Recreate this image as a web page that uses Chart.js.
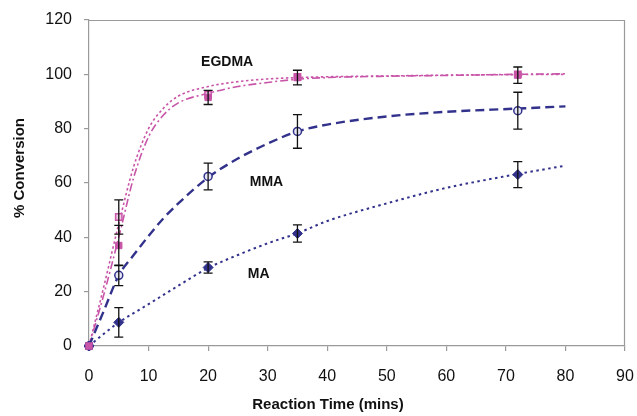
<!DOCTYPE html>
<html>
<head>
<meta charset="utf-8">
<script src="https://cdn.jsdelivr.net/npm/chart.js@4.4.1/dist/chart.umd.min.js"></script>
<style>
html,body{margin:0;padding:0;background:#fff;}
#wrap{width:637px;height:416px;position:relative;}
</style>
</head>
<body>
<div id="wrap"><canvas id="c" width="637" height="416"></canvas></div>
<script>
// ---- data ----
const markerTime = [0, 5, 20, 35, 72];
const maMean    = [0, 8.7, 28.9, 41.4, 63.1];
const maErr     = [0, 5.4, 2.1, 3.2, 4.8];
const mmaMean   = [0, 26, 62.4, 79, 86.6];
const mmaErr    = [0, 3.8, 4.9, 6.2, 6.8];
const egdmaMean = [0, 37, 91.5, 98.8, 99.7];
const egdmaErr  = [0, 7.4, 2.6, 2.7, 3.0];
const egdma2Mean = [0, 47.5, 92.5, 99, 100];
const egdma2Err  = [0, 6.3, 0, 0, 0];

const curveTime = [0, 2.5, 5, 7.5, 10, 12.5, 15, 20, 25, 30, 35, 40, 50, 60, 72, 80];
const maFit     = [0, 4.5, 8.7, 12.1, 15.4, 18.8, 22.2, 28.7, 33.5, 37.8, 41.5, 46, 52.5, 58.2, 63.3, 66.4];
const mmaFit    = [0, 13, 26, 33.5, 40.5, 47, 52.5, 62, 69, 74.5, 79, 81.5, 84.5, 86.2, 87.4, 88.2];
const egdmaFitA = [0, 19, 40, 62, 77, 85, 89.5, 93, 95.5, 97, 98.2, 98.8, 99.3, 99.6, 100, 100.2];
const egdmaFitB = [0, 22, 45, 66, 80, 87.5, 92, 95.5, 97.3, 98.3, 98.8, 99.1, 99.4, 99.7, 99.9, 100];

const xTicks = [0, 10, 20, 30, 40, 50, 60, 70, 80, 90];
const yTicks = [0, 20, 40, 60, 80, 100, 120];

const labels = [
  {text: 'EGDMA', x: 23.2, y: 104.5},
  {text: 'MMA',   x: 29.8, y: 60.2},
  {text: 'MA',    x: 28.5, y: 26.6}
];

const NAVY = '#32328c';
const PINK = '#c855a8';

const pts = (xs, ys) => xs.map((x, i) => ({x: x, y: ys[i]}));

const errorBars = [
  {mean: maMean, err: maErr},
  {mean: mmaMean, err: mmaErr},
  {mean: egdmaMean, err: egdmaErr},
  {mean: egdma2Mean, err: egdma2Err}
];

const extras = {
  id: 'extras',
  beforeDatasetsDraw(chart) {
    const {ctx, chartArea: a} = chart;
    ctx.save();
    ctx.strokeStyle = '#9a9a9a';
    ctx.lineWidth = 1.2;
    ctx.beginPath();
    ctx.moveTo(a.left, a.top + 0.5);
    ctx.lineTo(a.right - 0.5, a.top + 0.5);
    ctx.lineTo(a.right - 0.5, a.bottom);
    ctx.stroke();
    ctx.restore();
  },
  afterDatasetsDraw(chart) {
    const {ctx} = chart;
    const xs = chart.scales.x, ys = chart.scales.y;
    ctx.save();
    ctx.strokeStyle = '#111';
    ctx.lineWidth = 1.3;
    errorBars.forEach(s => {
      s.mean.forEach((m, i) => {
        const e = s.err[i];
        if (!e) return;
        const px = xs.getPixelForValue(markerTime[i]);
        const top = ys.getPixelForValue(m + e);
        const bot = ys.getPixelForValue(m - e);
        ctx.beginPath();
        ctx.moveTo(px, top); ctx.lineTo(px, bot);
        ctx.moveTo(px - 4.5, top); ctx.lineTo(px + 4.5, top);
        ctx.moveTo(px - 4.5, bot); ctx.lineTo(px + 4.5, bot);
        ctx.stroke();
      });
    });
    ctx.fillStyle = '#111';
    ctx.font = 'bold 14px "Liberation Sans", Arial, sans-serif';
    ctx.textAlign = 'center';
    ctx.textBaseline = 'middle';
    labels.forEach(l => {
      ctx.fillText(l.text, xs.getPixelForValue(l.x), ys.getPixelForValue(l.y));
    });
    ctx.restore();
  },
  afterDraw(chart) {
    const {ctx} = chart;
    ctx.save();
    ctx.fillStyle = '#111';
    ctx.font = 'bold 15px "Liberation Sans", Arial, sans-serif';
    ctx.textAlign = 'center';
    ctx.textBaseline = 'middle';
    ctx.fillText('Reaction Time (mins)', 328, 405);
    ctx.translate(20, 168);
    ctx.rotate(-Math.PI / 2);
    ctx.fillText('% Conversion', 0, 0);
    ctx.restore();
  }
};

new Chart(document.getElementById('c'), {
  type: 'scatter',
  data: {
    datasets: [
      {data: pts(markerTime, egdmaMean), showLine: false, clip: false, pointStyle: 'rect', pointRadius: 4.5, backgroundColor: PINK, borderColor: PINK, borderWidth: 1},
      {data: pts(markerTime, maMean), showLine: false, clip: false, pointStyle: 'rectRot', pointRadius: 5, backgroundColor: NAVY, borderColor: NAVY, borderWidth: 1},
      {data: pts(markerTime, mmaMean), showLine: false, clip: false, pointStyle: 'circle', pointRadius: 4, backgroundColor: '#e6e6f5', borderColor: NAVY, borderWidth: 1.5},
      {data: pts(markerTime, egdma2Mean), showLine: false, clip: false, pointStyle: 'rect', pointRadius: 4.5, backgroundColor: '#f0d0e6', borderColor: PINK, borderWidth: 1.5},
      {data: pts(curveTime, maFit), showLine: true, borderColor: NAVY, borderWidth: 2, borderDash: [2.5, 3.5], pointRadius: 0, cubicInterpolationMode: 'monotone'},
      {data: pts(curveTime, mmaFit), showLine: true, borderColor: NAVY, borderWidth: 2.4, borderDash: [9, 5], pointRadius: 0, cubicInterpolationMode: 'monotone'},
      {data: pts(curveTime, egdmaFitA), showLine: true, borderColor: PINK, borderWidth: 1.6, borderDash: [8, 3, 2, 3], pointRadius: 0, cubicInterpolationMode: 'monotone'},
      {data: pts(curveTime, egdmaFitB), showLine: true, borderColor: PINK, borderWidth: 1.6, borderDash: [2.5, 2.5], pointRadius: 0, cubicInterpolationMode: 'monotone'}
    ]
  },
  options: {
    responsive: false,
    animation: false,
    layout: {padding: {left: 0, top: 20, right: 12, bottom: 0}},
    plugins: {legend: {display: false}, tooltip: {enabled: false}},
    scales: {
      x: {
        type: 'linear', min: 0, max: 90,
        afterBuildTicks: s => { s.ticks = xTicks.map(v => ({value: v})); },
        afterFit: s => { s.height = 70; s.paddingLeft = 0; s.paddingRight = 0; },
        grid: {display: true, drawOnChartArea: false, drawTicks: true, tickLength: 5, color: '#9a9a9a', lineWidth: 1.2},
        border: {display: true, color: '#9a9a9a', width: 1.2},
        ticks: {color: '#111', font: {family: '"Liberation Sans", Arial, sans-serif', size: 16}, padding: 16, maxRotation: 0}
      },
      y: {
        type: 'linear', min: 0, max: 120,
        afterBuildTicks: s => { s.ticks = yTicks.map(v => ({value: v})); },
        afterFit: s => { s.width = 89; s.paddingTop = 0; s.paddingBottom = 0; },
        grid: {display: true, drawOnChartArea: false, drawTicks: true, tickLength: 5, color: '#9a9a9a', lineWidth: 1.2},
        border: {display: true, color: '#9a9a9a', width: 1.2},
        ticks: {color: '#111', font: {family: '"Liberation Sans", Arial, sans-serif', size: 16}, padding: 12}
      }
    }
  },
  plugins: [extras]
});
</script>
</body>
</html>
